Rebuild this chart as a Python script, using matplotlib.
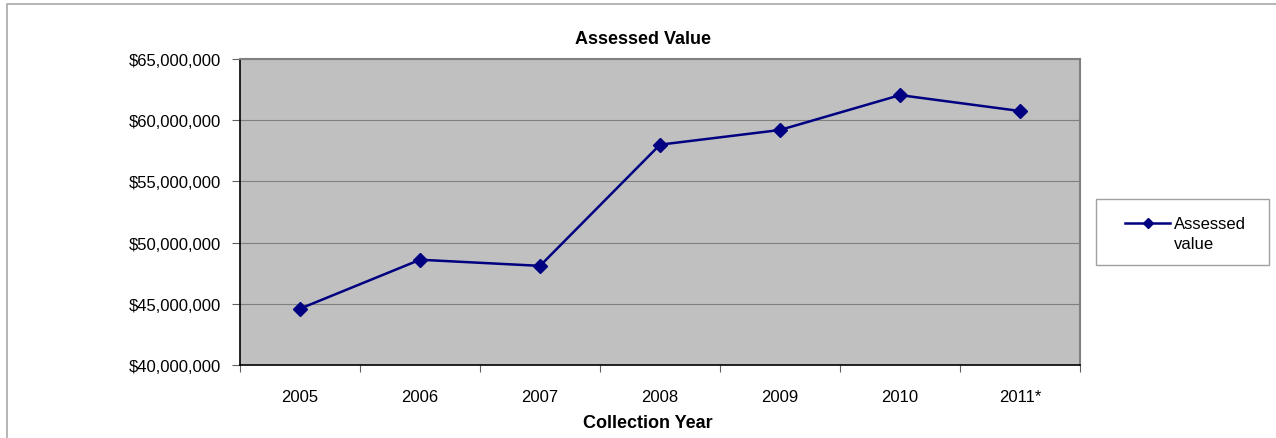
import matplotlib.pyplot as plt
from matplotlib.patches import Rectangle
from matplotlib.lines import Line2D
from matplotlib.ticker import FuncFormatter, FixedLocator

plt.rcParams['font.family'] = ['Liberation Sans', 'DejaVu Sans']

# Valor tasado por año de cobro
years = ['2005', '2006', '2007', '2008', '2009', '2010', '2011*']
assessed = [44_600_000, 48_600_000, 48_100_000, 58_000_000,
            59_200_000, 62_050_000, 60_750_000]
series_label = 'Assessed\nvalue'

W, H = 1276, 439
fig = plt.figure(figsize=(W / 100, H / 100), dpi=100)

# marco del gráfico (solo se ven los bordes izquierdo y superior)
fig.patches.append(Rectangle((7 / W, -0.2), 1.2, 1.2 - 5 / H, transform=fig.transFigure,
                             fill=False, edgecolor='#a8a8a8', linewidth=1.2))

ax = fig.add_axes([240 / W, 1 - 366 / H, 840 / W, 306 / H])
ax.set_facecolor('#c0c0c0')

x = list(range(len(years)))
line, = ax.plot(x, assessed, color='#000080', linewidth=1.8, marker='D',
                markersize=7, zorder=3)

ax.set_xlim(-0.5, len(years) - 0.5)
ax.set_ylim(40_000_000, 65_000_000)
ax.set_yticks(range(40_000_000, 65_000_001, 5_000_000))
ax.yaxis.set_major_formatter(FuncFormatter(lambda v, p: f'${v:,.0f}'))
ax.grid(axis='y', color='#808080', linewidth=0.8)
ax.set_axisbelow(True)

# marcas del eje x entre categorías, etiquetas centradas
ax.xaxis.set_major_locator(FixedLocator([i - 0.5 for i in range(len(years) + 1)]))
ax.xaxis.set_minor_locator(FixedLocator(x))
ax.set_xticklabels([], minor=False)
ax.set_xticklabels(years, minor=True)
ax.tick_params(axis='x', which='major', length=5, width=0.8, color='#606060', direction='out')
ax.tick_params(axis='x', which='minor', length=0, pad=17, labelsize=12)
ax.tick_params(axis='y', length=6, width=0.8, color='#606060', pad=7.5, labelsize=12)

for side in ('top', 'right'):
    ax.spines[side].set_color('#808080')
    ax.spines[side].set_linewidth(1.5)
for side in ('left', 'bottom'):
    ax.spines[side].set_color('black')
    ax.spines[side].set_linewidth(1.2)

fig.text(643 / W, 1 - 39 / H, 'Assessed Value', ha='center', va='center',
         fontsize=13, fontweight='bold')
fig.text(648 / W, 1 - 424 / H, 'Collection Year', ha='center', va='center',
         fontsize=13, fontweight='bold')

# leyenda
fig.patches.append(Rectangle((1096 / W, 1 - 266 / H), 173 / W, 66 / H,
                             transform=fig.transFigure, fill=False,
                             edgecolor='#a0a0a0', linewidth=1.0))
fig.lines.append(Line2D([1125 / W, 1170 / W], [1 - 224 / H, 1 - 224 / H],
                        transform=fig.transFigure, color=line.get_color(),
                        linewidth=line.get_linewidth()))
fig.lines.append(Line2D([1147.5 / W], [1 - 224 / H], transform=fig.transFigure,
                        color=line.get_color(), marker='D', markersize=5.5,
                        linestyle='none'))
fig.text(1174 / W, 1 - 234.5 / H, series_label, ha='left', va='center',
         fontsize=12, linespacing=1.35)

fig.savefig('out.png', dpi=100)
